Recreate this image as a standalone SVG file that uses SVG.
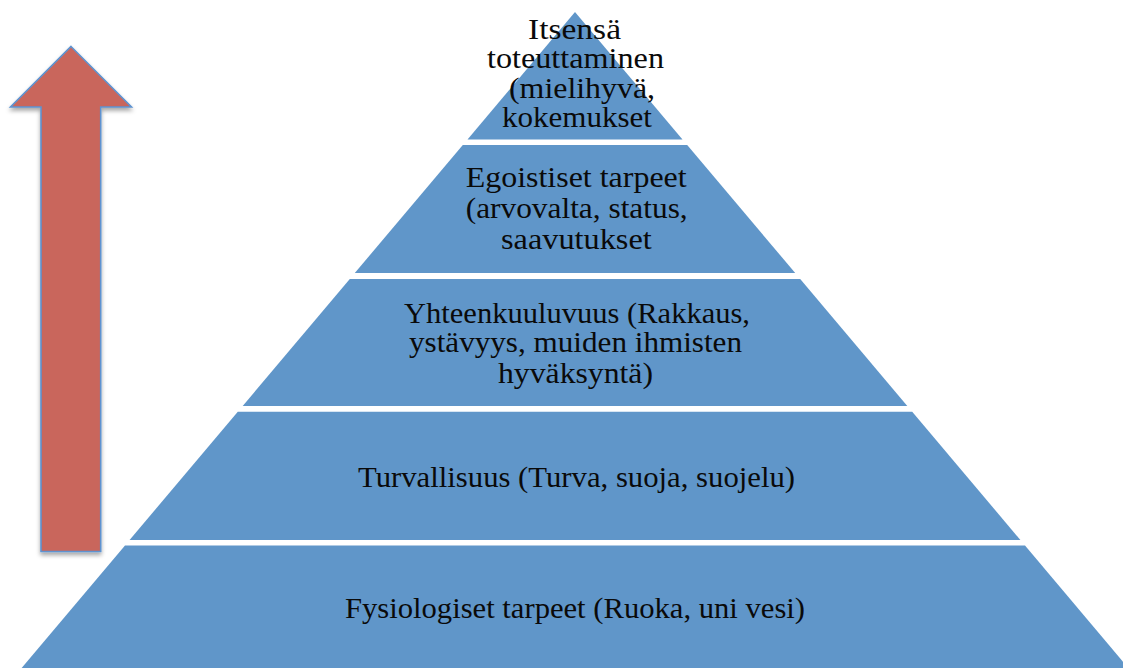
<svg xmlns="http://www.w3.org/2000/svg" width="1123" height="668" viewBox="0 0 1123 668">
  <style>
    .lvl { fill: #6096C9; }
    .t { font-family: "Liberation Serif", "Times New Roman", serif; font-size: 29.5px; fill: #0a0a0a; }
    .arrow { fill: #C9665C; stroke: #5E93D0; stroke-width: 1.6; stroke-linejoin: miter; }
  </style>
  <defs>
    <filter id="shadow" x="-30%" y="-10%" width="160%" height="120%">
      <feDropShadow dx="0" dy="3" stdDeviation="2.2" flood-color="#000" flood-opacity="0.35"/>
    </filter>
  </defs>
  <rect width="1123" height="668" fill="#ffffff"/>

  <g id="arrow">
    <polygon class="arrow" filter="url(#shadow)" points="71,46.5 131.5,107 100.7,107 100.7,551.5 41,551.5 41,107 10.5,107"/>
  </g>

  <g id="level1">
    <polygon class="lvl" points="575,12 682.5,139.5 467.5,139.5"/>
    <text class="t" x="528" y="39" textLength="93" lengthAdjust="spacingAndGlyphs">Itsensä</text>
    <text class="t" x="487" y="68.3" textLength="177" lengthAdjust="spacingAndGlyphs">toteuttaminen</text>
    <text class="t" x="509" y="97.5" textLength="146" lengthAdjust="spacingAndGlyphs">(mielihyvä,</text>
    <text class="t" x="502" y="127" textLength="150" lengthAdjust="spacingAndGlyphs">kokemukset</text>
  </g>

  <g id="level2">
    <polygon class="lvl" points="462.8,145 687.2,145 795.2,273 354.8,273"/>
    <text class="t" x="465.7" y="187.3" textLength="221" lengthAdjust="spacingAndGlyphs">Egoistiset tarpeet</text>
    <text class="t" x="465.7" y="218" textLength="222" lengthAdjust="spacingAndGlyphs">(arvovalta, status,</text>
    <text class="t" x="501" y="249" textLength="150.7" lengthAdjust="spacingAndGlyphs">saavutukset</text>
  </g>

  <g id="level3">
    <polygon class="lvl" points="349.8,279 800.2,279 907.3,406 242.7,406"/>
    <text class="t" x="404" y="322.5" textLength="346" lengthAdjust="spacingAndGlyphs">Yhteenkuuluvuus (Rakkaus,</text>
    <text class="t" x="409" y="352" textLength="333" lengthAdjust="spacingAndGlyphs">ystävyys, muiden ihmisten</text>
    <text class="t" x="498" y="382.5" textLength="155" lengthAdjust="spacingAndGlyphs">hyväksyntä)</text>
  </g>

  <g id="level4">
    <polygon class="lvl" points="237.8,411.7 912.2,411.7 1020.4,540 129.6,540"/>
    <text class="t" x="358" y="486.7" textLength="437" lengthAdjust="spacingAndGlyphs">Turvallisuus (Turva, suoja, suojelu)</text>
  </g>

  <g id="level5">
    <polygon class="lvl" points="125,545.5 1025,545.5 1138.5,680 11.5,680"/>
    <text class="t" x="345" y="618.3" textLength="460" lengthAdjust="spacingAndGlyphs">Fysiologiset tarpeet (Ruoka, uni vesi)</text>
  </g>
</svg>
